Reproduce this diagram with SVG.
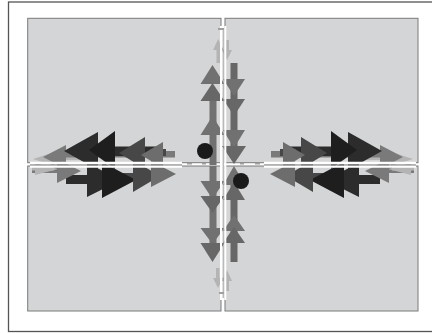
<svg xmlns="http://www.w3.org/2000/svg" width="432" height="333" viewBox="0 0 432 333">
<style>
.panel{fill:#d4d5d6;stroke:#7a7a7a;stroke-width:1}
.lt{fill:#b4b4b4}
.g1{fill:#7a7a7a}
.d1{fill:#2c2c2c}
.d0{fill:#1e1e1e}
.dg{fill:#474747}
.g2{fill:#6d6d6d}
.vg{fill:#717171}
.vg2{fill:#676767}
.gw{stroke:#ffffff;fill:none}
.gl{stroke:#9a9a9a;fill:none}
.dot{fill:#1a1a1a}
.speck{fill:#a0a0a0}
</style>
<rect x="0" y="0" width="432" height="333" fill="#ffffff"/>
<rect x="8.5" y="2" width="430" height="329.5" fill="none" stroke="#555" stroke-width="1.3"/>
<g id="panels">
  <rect id="panel-tl" class="panel" x="27.7" y="18.3" width="193.3" height="144.4"/>
  <rect id="panel-tr" class="panel" x="225" y="18.3" width="193" height="144.4"/>
  <rect id="panel-bl" class="panel" x="27.7" y="166" width="193.3" height="145"/>
  <rect id="panel-br" class="panel" x="225" y="166" width="193" height="145"/>
</g>
<defs>
  <g id="cluster">
    <rect class="lt" x="48" y="156" width="34" height="4"/>
    <rect class="g1" x="60" y="151" width="115" height="6.5"/>
    <rect class="d1" x="96" y="146.5" width="60" height="9.5"/>
    <rect class="dg" x="150" y="149" width="16" height="7"/>
    <polygon class="lt" points="33,159 55,152 55,166"/>
    <polygon class="g1" points="43,157 66,145 66,169"/>
    <polygon class="d1" points="64,151 98,132 98,170"/>
    <polygon class="d0" points="89,150 115,131 115,169"/>
    <polygon class="dg" points="119,153 145,137 145,169"/>
    <polygon class="g2" points="141,155 163,142 163,168"/>
    <rect class="g1" x="32" y="166" width="32" height="7"/>
    <rect class="lt" x="32" y="167" width="22" height="3.5"/>
    <rect class="d1" x="66" y="175" width="44" height="9"/>
    <rect class="dg" x="108" y="173" width="34" height="8"/>
    <polygon class="lt" points="35,163 35,175 58,169"/>
    <polygon class="g1" points="57,159 57,183 81,171"/>
    <polygon class="d1" points="87,163 87,197 121,180"/>
    <polygon class="d0" points="102,162 102,198 136,180"/>
    <polygon class="dg" points="133,160 133,192 160,176"/>
    <polygon class="g2" points="151,161 151,187 176,174"/>
  </g>
</defs>
<g id="left-cluster"><use href="#cluster"/></g>
<g id="right-cluster" transform="translate(446,0) scale(-1,1)"><use href="#cluster"/></g>
<g id="vertical-top">
  <rect class="vg" x="209.5" y="95" width="7" height="70"/>
  <polygon class="vg" points="212.5,65 200.5,84 224.5,84"/>
  <polygon class="vg2" points="212.5,83 200.5,101 224.5,101"/>
  <polygon class="vg" points="212.5,116 200.5,135 224.5,135"/>
  <rect class="lt" x="216.5" y="48" width="3.5" height="15"/>
  <polygon class="lt" points="218.2,39 213,50 223.5,50"/>
  <rect class="vg2" x="230.5" y="63" width="7" height="90"/>
  <polygon class="vg" points="223,79 245,79 234,96"/>
  <polygon class="vg2" points="223,99 245,99 234,116"/>
  <polygon class="vg" points="223,130 245,130 234,148"/>
  <polygon class="vg2" points="222,146 246,146 234,164"/>
  <rect class="lt" x="225.5" y="40" width="3.5" height="12"/>
  <polygon class="lt" points="222,50 232,50 227,60"/>
</g>
<g id="vertical-bottom">
  <rect class="vg" x="209.5" y="166" width="7" height="80"/>
  <polygon class="vg" points="200.5,181 224.5,181 212.5,199"/>
  <polygon class="vg2" points="200.5,196 224.5,196 212.5,213"/>
  <polygon class="vg" points="200.5,228 224.5,228 212.5,244"/>
  <polygon class="vg2" points="200.5,243 224.5,243 212.5,262"/>
  <rect class="lt" x="216" y="268" width="3.5" height="12"/>
  <polygon class="lt" points="213,278 223,278 218,288"/>
  <rect class="vg2" x="230.5" y="180" width="7" height="82"/>
  <polygon class="vg" points="234,166 223,185 245,185"/>
  <polygon class="vg2" points="234,182 223,200 245,200"/>
  <polygon class="vg" points="234,215 223,231 245,231"/>
  <polygon class="vg2" points="234,227 223,243 245,243"/>
  <rect class="lt" x="225.5" y="279" width="3.5" height="12"/>
  <polygon class="lt" points="227,270 222,281 232,281"/>
</g>
<g id="gaps">
  <path class="gw" stroke-width="2.4" d="M30 162.9H182M264 162.9H416M30 166.6H182M264 166.6H416"/>
  <path class="gl" stroke-width="1.3" d="M30 164.8H182M264 164.8H416"/>
  <path class="gw" stroke-width="2" d="M221 26V300M225.3 26V300"/>
  <path class="gl" stroke-width="1" d="M223.2 28V298"/>
</g>
<g id="dots">
  <circle class="dot" cx="205" cy="151" r="8"/>
  <circle class="dot" cx="241" cy="181" r="8"/>
</g>
<g id="specks">
  <rect class="speck" x="187" y="163" width="5" height="1.5"/>
  <rect class="speck" x="202" y="163" width="4" height="1.5"/>
  <rect class="speck" x="240" y="163" width="4" height="1.5"/>
  <rect class="speck" x="255" y="163" width="5" height="1.5"/>
  <rect class="speck" x="218" y="28" width="6" height="2"/>
  <rect class="speck" x="219" y="292" width="5" height="2"/>
</g>
</svg>
